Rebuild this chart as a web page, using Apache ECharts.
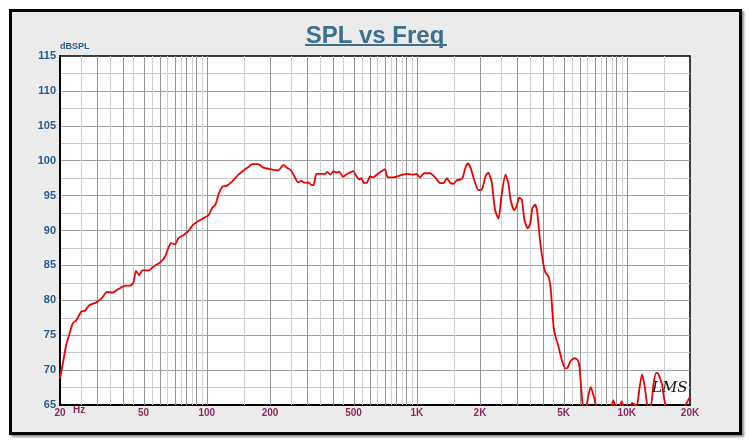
<!DOCTYPE html>
<html>
<head>
<meta charset="utf-8">
<script src="https://cdn.jsdelivr.net/npm/echarts@6/dist/echarts.min.js"></script>
<style>
  html, body { margin:0; padding:0; background:#fff; }
  #frame { position:absolute; left:9px; top:9px; width:727px; height:420px; border:3px solid #000; background:#EBEBEB; box-shadow:2px 2px 2px rgba(0,0,0,0.45); }
  #chart { position:absolute; left:0; top:0; width:750px; height:445px; }
</style>
</head>
<body>
<div id="frame"></div>
<div id="chart"></div>
<script>
// ---- data ----
const FREQ = [20, 20.7, 21.4, 22.1, 23.0, 24.0, 25.3, 26.3, 27.6, 29.8, 31.6, 33.5, 35.6, 37.9, 40.9, 43.1, 44.7, 46.0, 47.6, 49.4,
  53.2, 55.5, 59.8, 63.2, 65.6, 67.6, 70.6, 73.3, 77.1, 81.0, 86.0, 92.9, 102, 105.8, 109.9, 113.8, 118.8, 124.2, 131.8, 141.6,
  149.6, 157.9, 164, 175.8, 186, 200, 218.8, 231.6, 240.4, 252, 261.8, 271.6, 281.7, 290.7, 304.5, 316, 322.5, 333, 364.7, 375,
  387, 402, 414, 428, 445, 466, 497, 518, 532, 545, 559, 579, 600, 617, 651, 688, 706, 727, 769, 860,
  908, 961, 997, 1035, 1082, 1157, 1223, 1293, 1341, 1391, 1443, 1497, 1553, 1643, 1708, 1752, 1808, 1878, 1965, 2043,
  2122, 2187, 2272, 2360, 2452, 2527, 2644, 2727, 2798, 2907, 2983, 3074, 3166, 3255, 3378, 3469, 3551, 3660, 3744, 3861,
  3976, 4081, 4235, 4347, 4482, 4581, 4754, 4911, 5096, 5224, 5406, 5650, 5849, 5953, 6059, 6166, 6300, 6439, 6730, 7000,
  7140, 7600, 8200, 8640, 9000, 9440, 10000, 10590, 11150, 11500, 11830, 12200, 12540, 13000, 13400, 13790, 14100, 14700, 15310, 17000,
  19030, 20000];
const SPL = [68.8, 71.2, 73.6, 75.0, 76.7, 77.2, 78.4, 78.5, 79.3, 79.7, 80.3, 81.2, 81.1, 81.6, 82.1, 82.1, 82.5, 84.2, 83.6, 84.3,
  84.3, 84.8, 85.4, 86.2, 87.5, 88.2, 88.0, 88.9, 89.3, 89.8, 90.8, 91.5, 92.2, 93.2, 93.7, 95.2, 96.3, 96.4, 97.0, 98.0,
  98.6, 99.1, 99.5, 99.5, 99.0, 98.8, 98.6, 99.4, 99.0, 98.6, 97.7, 96.9, 97.1, 96.85, 96.85, 96.5, 96.5, 98.1, 98.1, 98.4,
  98.0, 98.5, 98.3, 98.4, 97.7, 98.1, 98.5, 97.7, 97.3, 97.5, 96.8, 96.85, 97.8, 97.6, 98.1, 98.6, 98.8, 97.6, 97.6, 98.0,
  98.1, 98.0, 98.1, 97.6, 98.2, 98.2, 97.6, 96.8, 96.8, 97.5, 96.8, 96.7, 97.2, 97.4, 99.1, 99.6, 98.9, 97.2, 95.8, 95.9,
  97.7, 98.3, 97.0, 92.9, 91.7, 94.8, 98.0, 96.85, 94.4, 92.9, 93.4, 94.7, 94.4, 91.5, 90.3, 91.0, 93.2, 93.7, 92.7, 88.6,
  85.8, 84.1, 83.4, 81.5, 76.2, 74.8, 73.1, 71.4, 70.25, 70.35, 71.35, 71.7, 71.4, 70.5, 67.6, 65.0, 63.5, 65.0, 67.6, 66.0,
  64.9, 63.0, 63.5, 65.7, 63.5, 65.5, 63.5, 65.3, 64.9, 67.5, 69.4, 67.5, 64.9, 64.8, 68.0, 69.6, 69.5, 68.0, 64.9, 63.0,
  65.0, 66.2];

const TICK_FREQ  = [20, 50, 100, 200, 500, 1000, 2000, 5000, 10000, 20000];
const TICK_LABEL = ['20', '50', '100', '200', '500', '1K', '2K', '5K', '10K', '20K'];
const DECADES = [10, 100, 1000, 10000];
const MAJOR_MULT = [2, 3, 4, 5, 6, 7, 8, 9, 10];
const MINOR_MULT = [1.5, 2.5, 3.5, 4.5, 5.5, 6.5, 7.5, 8.5, 9.5];
const F_MIN = 20, F_MAX = 20000;
const Y_MIN = 65, Y_MAX = 115, Y_STEP = 5;

// ---- build ----
const L = Math.log10;
const lineData = FREQ.map((f, i) => [L(f), SPL[i]]);
function gridFreqs(mults) {
  const out = [];
  DECADES.forEach(d => mults.forEach(m => { const f = d * m; if (f > F_MIN + 1e-6 && f < F_MAX - 1e-6) out.push(f); }));
  return out;
}
const majorLines = gridFreqs(MAJOR_MULT).map(f => ({ xAxis: L(f) }));
const minorLines = gridFreqs(MINOR_MULT).map(f => ({ xAxis: L(f) }));

const chart = echarts.init(document.getElementById('chart'), null, { renderer: 'canvas' });
const labelFont = 'Liberation Sans Narrow, Liberation Sans, Arial, sans-serif';
chart.setOption({
  animation: false,
  backgroundColor: 'transparent',
  title: {
    text: 'SPL vs Freq', left: 'center', top: 19,
    textStyle: { fontSize: 24, fontWeight: 'bold', color: '#3D6F8E', fontFamily: 'Liberation Sans, Arial, sans-serif' }
  },
  graphic: [
    { type: 'rect', shape: { x: 305, y: 44, width: 142, height: 2 }, style: { fill: '#3D6F8E' } },
    { type: 'text', x: 73, y: 405, style: { text: 'Hz', fill: '#8B2A5E', font: 'bold 10px ' + labelFont } },
    { type: 'text', x: 652, y: 381, z: 100, style: { text: 'LMS', fill: '#111', font: 'italic 15px DejaVu Serif, serif' } }
  ],
  grid: { left: 60, right: 60, top: 56, bottom: 40, show: true, backgroundColor: '#fff', borderColor: '#000', borderWidth: 1.5 },
  xAxis: [{
    type: 'value', min: L(F_MIN), max: L(F_MAX),
    axisLine: { show: true, lineStyle: { color: '#000', width: 2 } },
    axisTick: { show: false },
    splitLine: { show: false },
    axisLabel: {
      customValues: TICK_FREQ.map(L),
      margin: 3, fontSize: 10, fontWeight: 'bold', color: '#8B2A5E', fontFamily: labelFont,
      formatter: v => {
        let best = 0;
        TICK_FREQ.forEach((f, i) => { if (Math.abs(L(f) - v) < Math.abs(L(TICK_FREQ[best]) - v)) best = i; });
        return TICK_LABEL[best];
      }
    }
  }],
  yAxis: [{
    type: 'value', min: Y_MIN, max: Y_MAX, interval: Y_STEP,
    name: 'dBSPL', nameLocation: 'end', nameGap: 2,
    nameTextStyle: { align: 'left', verticalAlign: 'bottom', fontSize: 9, fontWeight: 'bold', color: '#2B5B8C', fontFamily: labelFont },
    axisLine: { show: true, lineStyle: { color: '#000', width: 2 } },
    axisTick: { show: false },
    axisLabel: { margin: 4, fontSize: 11, fontWeight: 'bold', color: '#2B5B8C', fontFamily: labelFont },
    splitLine: { show: true, showMinLine: false, showMaxLine: false, lineStyle: { color: '#A0A0A0', width: 1 } },
    minorTick: { show: false, splitNumber: 2 },
    minorSplitLine: { show: true, lineStyle: { color: '#C8C8C8', width: 1 } }
  }],
  series: [
    {
      type: 'line', data: [], silent: true, z: 1,
      markLine: { silent: true, symbol: 'none', label: { show: false }, animation: false,
        lineStyle: { color: '#D0D0D0', width: 1, type: 'solid' }, data: minorLines }
    },
    {
      type: 'line', data: [], silent: true, z: 2,
      markLine: { silent: true, symbol: 'none', label: { show: false }, animation: false,
        lineStyle: { color: '#969696', width: 1, type: 'solid' }, data: majorLines }
    },
    {
      type: 'line', data: lineData, z: 10, symbol: 'none', smooth: 0.2, clip: true,
      lineStyle: { color: '#F00000', width: 1.8 }
    }
  ]
});
</script>
</body>
</html>
